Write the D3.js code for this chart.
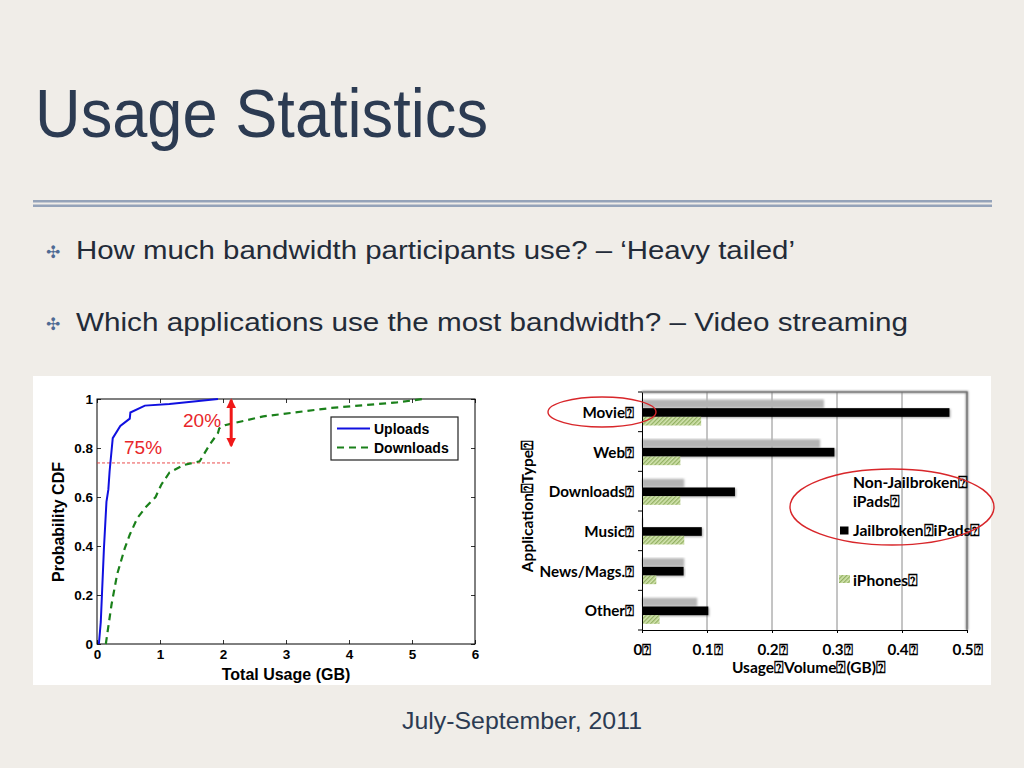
<!DOCTYPE html>
<html>
<head>
<meta charset="utf-8">
<script src="https://cdn.jsdelivr.net/npm/d3@7"></script>
<style>
  body { margin: 0; background: #f0ede8; }
  svg { display: block; }
  .tick line { stroke: #000; }
</style>
</head>
<body>
<div id="slide"></div>
<script>
// data
var BOX = "\u2370"; // the missing-glyph boxes that show in the original

var uploadX = [0.03, 0.06, 0.11, 0.15, 0.18, 0.20, 0.25, 0.37, 0.52, 0.53, 0.76, 1.15, 1.92];
var uploadY = [0, 0.09, 0.39, 0.58, 0.63, 0.705, 0.84, 0.89, 0.92, 0.945, 0.973, 0.98, 1.0];
var downloadX = [0.14, 0.23, 0.32, 0.44, 0.52, 0.64, 0.78, 0.93, 1.02, 1.15, 1.37, 1.63, 1.79, 1.92, 1.94, 2.03, 2.64, 3.70, 4.76, 5.18];
var downloadY = [0, 0.16, 0.285, 0.39, 0.446, 0.514, 0.56, 0.60, 0.65, 0.70, 0.73, 0.746, 0.814, 0.861, 0.88, 0.893, 0.929, 0.963, 0.986, 1.0];
var cdfXTicks = [0, 1, 2, 3, 4, 5, 6];
var cdfYTicks = [0, 0.2, 0.4, 0.6, 0.8, 1];

var apps = ["Movie", "Web", "Downloads", "Music", "News/Mags.", "Other"];
var series = ["Non-Jailbroken iPads", "Jailbroken iPads", "iPhones"];
var nonJailbroken = [0.28, 0.274, 0.065, 0.002, 0.065, 0.085];
var jailbroken = [0.473, 0.296, 0.143, 0.092, 0.064, 0.102];
var iphones = [0.091, 0.059, 0.059, 0.065, 0.022, 0.027];
var volTicks = [0, 0.1, 0.2, 0.3, 0.4, 0.5];

var svg = d3.select("#slide").append("svg").attr("width", 1024).attr("height", 768);

// slide chrome
svg.append("rect").attr("width", 1024).attr("height", 768).attr("fill", "#f0ede8");
svg.append("text").attr("x", 35).attr("y", 137)
  .attr("font-family", "Liberation Sans, Arial, sans-serif").attr("font-size", 68)
  .attr("fill", "#2c3b52").attr("textLength", 453).attr("lengthAdjust", "spacingAndGlyphs")
  .text("Usage Statistics");
svg.append("rect").attr("x", 33).attr("y", 200).attr("width", 959).attr("height", 2.5).attr("fill", "#95a3b9");
svg.append("rect").attr("x", 33).attr("y", 204.5).attr("width", 959).attr("height", 2.5).attr("fill", "#95a3b9");

var bullets = ["How much bandwidth participants use? \u2013 \u2018Heavy tailed\u2019",
               "Which applications use the most bandwidth? \u2013 Video streaming"];
var bulletW = [719, 832];
bullets.forEach(function(b, i) {
  var by = 259 + i * 72;
  svg.append("text").attr("x", 46).attr("y", by - 1).attr("font-size", 17)
    .attr("font-family", "DejaVu Sans").attr("fill", "#4f6a94").text("\u2723");
  svg.append("text").attr("x", 76).attr("y", by)
    .attr("font-family", "Liberation Sans, Arial, sans-serif").attr("font-size", 26.5)
    .attr("fill", "#232b38").attr("textLength", bulletW[i]).attr("lengthAdjust", "spacingAndGlyphs")
    .text(b);
});

svg.append("text").attr("x", 522).attr("y", 729).attr("text-anchor", "middle")
  .attr("font-family", "Liberation Sans, Arial, sans-serif").attr("font-size", 24)
  .attr("fill", "#2c3b52").attr("textLength", 240).attr("lengthAdjust", "spacingAndGlyphs")
  .text("July-September, 2011");

// white panel behind both charts
svg.append("rect").attr("x", 33).attr("y", 376).attr("width", 958).attr("height", 309).attr("fill", "#fff");

// ---------- left chart: CDF ----------
var L = {left: 97, right: 475, top: 399, bottom: 644};
var cx = d3.scaleLinear().domain([0, 6]).range([L.left, L.right]);
var cy = d3.scaleLinear().domain([0, 1]).range([L.bottom, L.top]);
var cdf = svg.append("g").attr("font-family", "Liberation Sans, Arial, sans-serif");

function styleAxis(g, showText) {
  g.select(".domain").remove();
  g.selectAll(".tick line").attr("stroke", "#000").attr("stroke-width", 0.8);
  g.selectAll("text").attr("font-size", 13.5).attr("font-weight", "bold").attr("fill", "#000")
    .attr("font-family", "Liberation Sans, Arial, sans-serif");
  if (!showText) g.selectAll("text").remove();
}
cdf.append("g").attr("transform", "translate(0," + L.bottom + ")")
  .call(d3.axisBottom(cx).tickValues(cdfXTicks).tickSize(-4).tickPadding(5).tickFormat(d3.format("d")))
  .call(styleAxis, true);
cdf.append("g").attr("transform", "translate(0," + L.top + ")")
  .call(d3.axisTop(cx).tickValues(cdfXTicks).tickSize(-4)).call(styleAxis, false);
cdf.append("g").attr("transform", "translate(" + L.left + ",0)")
  .call(d3.axisLeft(cy).tickValues(cdfYTicks).tickSize(-4).tickPadding(4).tickFormat(function(d) { return d === 0 || d === 1 ? d : d.toFixed(1); }))
  .call(styleAxis, true);
cdf.append("g").attr("transform", "translate(" + L.right + ",0)")
  .call(d3.axisRight(cy).tickValues(cdfYTicks).tickSize(-4)).call(styleAxis, false);
cdf.append("rect").attr("x", L.left).attr("y", L.top).attr("width", L.right - L.left).attr("height", L.bottom - L.top)
  .attr("fill", "none").attr("stroke", "#000").attr("stroke-width", 1);

var line = d3.line().x(function(d) { return cx(d[0]); }).y(function(d) { return cy(d[1]); });
var up = uploadX.map(function(v, i) { return [v, uploadY[i]]; });
var down = downloadX.map(function(v, i) { return [v, downloadY[i]]; });

// annotation: 75% line
cdf.append("line").attr("x1", cx(0)).attr("x2", cx(2.13)).attr("y1", cy(0.739)).attr("y2", cy(0.739))
  .attr("stroke", "#e8383a").attr("stroke-width", 0.9).attr("stroke-dasharray", "3,2");

cdf.append("path").datum(down).attr("d", line).attr("fill", "none")
  .attr("stroke", "#1a801a").attr("stroke-width", 2.2).attr("stroke-dasharray", "7,5");
cdf.append("path").datum(up).attr("d", line).attr("fill", "none")
  .attr("stroke", "#1010e0").attr("stroke-width", 2);

// annotation: 20% arrow
var defs = svg.append("defs");
defs.append("marker").attr("id", "ah").attr("viewBox", "0 0 10 10").attr("refX", 8).attr("refY", 5)
  .attr("markerWidth", 3.2).attr("markerHeight", 3.2).attr("orient", "auto-start-reverse")
  .append("path").attr("d", "M0,0L10,5L0,10z").attr("fill", "#f01818");
cdf.append("line").attr("x1", cx(2.13)).attr("x2", cx(2.13)).attr("y1", cy(0.995)).attr("y2", cy(0.81))
  .attr("stroke", "#f01818").attr("stroke-width", 3)
  .attr("marker-start", "url(#ah)").attr("marker-end", "url(#ah)");
cdf.append("text").attr("x", 183).attr("y", 427).attr("font-size", 19).attr("fill", "#e8262a").text("20%");
cdf.append("text").attr("x", 124).attr("y", 454).attr("font-size", 19).attr("fill", "#e8262a").text("75%");

// legend
var lg = cdf.append("g");
lg.append("rect").attr("x", 331).attr("y", 417).attr("width", 127).attr("height", 43)
  .attr("fill", "#fff").attr("stroke", "#222").attr("stroke-width", 1.2);
lg.append("line").attr("x1", 337).attr("x2", 370).attr("y1", 428.5).attr("y2", 428.5)
  .attr("stroke", "#1010e0").attr("stroke-width", 2);
lg.append("line").attr("x1", 337).attr("x2", 370).attr("y1", 447.5).attr("y2", 447.5)
  .attr("stroke", "#1a801a").attr("stroke-width", 2.2).attr("stroke-dasharray", "7,5");
lg.append("text").attr("x", 374).attr("y", 433.5).attr("font-size", 14).attr("font-weight", "bold").text("Uploads");
lg.append("text").attr("x", 374).attr("y", 452.5).attr("font-size", 14).attr("font-weight", "bold").text("Downloads");

cdf.append("text").attr("x", 286).attr("y", 680).attr("text-anchor", "middle")
  .attr("font-size", 16).attr("font-weight", "bold").text("Total Usage (GB)");
cdf.append("text").attr("transform", "translate(64,522) rotate(-90)").attr("text-anchor", "middle")
  .attr("font-size", 16).attr("font-weight", "bold").text("Probability CDF");

// ---------- right chart: application usage ----------
var R = {left: 642, right: 967, top: 392, bottom: 630};
var vx = d3.scaleLinear().domain([0, 0.5]).range([R.left, R.right]);
var vy = d3.scaleBand().domain(apps).range([R.top, R.bottom]);
var sub = d3.scaleBand().domain(series).range([7.5, 33.5]);
var bar = svg.append("g").attr("font-family", "Lato, 'Open Sans', sans-serif").attr("font-weight", "bold");

var pat = defs.append("pattern").attr("id", "hatch").attr("patternUnits", "userSpaceOnUse")
  .attr("width", 3).attr("height", 3).attr("patternTransform", "rotate(45)");
pat.append("rect").attr("width", 3).attr("height", 3).attr("fill", "#d2e3ae");
pat.append("rect").attr("width", 1.3).attr("height", 3).attr("fill", "#93b163");
defs.append("filter").attr("id", "soft").append("feGaussianBlur").attr("stdDeviation", 0.8);
var sh = defs.append("filter").attr("id", "shadow").attr("x", "-5%").attr("y", "-30%").attr("width", "110%").attr("height", "160%");
sh.append("feDropShadow").attr("dx", 1).attr("dy", 1).attr("stdDeviation", 0.8).attr("flood-color", "#000").attr("flood-opacity", 0.35);

// grid
bar.append("g").selectAll("line").data(volTicks.slice(1, 5)).join("line")
  .attr("x1", function(d) { return vx(d); }).attr("x2", function(d) { return vx(d); })
  .attr("y1", R.top).attr("y2", R.bottom).attr("stroke", "#8a8a8a").attr("stroke-width", 1);
bar.append("path").attr("d", "M" + R.left + "," + R.top + "H" + R.right + "V" + R.bottom)
  .attr("fill", "none").attr("stroke", "#7a7a7a").attr("stroke-width", 2.2).attr("filter", "url(#soft)");
bar.append("path").attr("d", "M" + R.left + "," + R.top + "H" + R.right + "V" + R.bottom)
  .attr("fill", "none").attr("stroke", "#6e6e6e").attr("stroke-width", 1.2);

var rows = apps.map(function(a, i) {
  return {app: a, vals: [nonJailbroken[i], jailbroken[i], iphones[i]]};
});
var rowG = bar.append("g").selectAll("g").data(rows).join("g")
  .attr("transform", function(d) { return "translate(0," + vy(d.app) + ")"; });
rowG.selectAll("rect").data(function(d) { return d.vals.map(function(v, j) { return {s: series[j], v: v}; }); })
  .join("rect")
  .attr("x", vx(0)).attr("y", function(d) { return sub(d.s); })
  .attr("width", function(d) { return vx(d.v) - vx(0); }).attr("height", sub.bandwidth())
  .attr("fill", function(d, j) { return j === 0 ? "#b4b4b4" : j === 1 ? "#000" : "url(#hatch)"; })
  .attr("filter", function(d, j) { return j === 0 ? "url(#soft)" : j === 1 ? "url(#shadow)" : null; });

// axes
var ya = bar.append("g").attr("transform", "translate(" + R.left + ",0)")
  .call(d3.axisLeft(vy).tickSize(0).tickPadding(8).tickFormat(function(d) { return d + BOX; }));
ya.select(".domain").attr("stroke", "#000");
ya.selectAll("text").attr("font-size", 15.2).attr("fill", "#000").attr("font-family", "Lato, sans-serif").attr("dy", "0.4em");
bar.append("g").selectAll("line").data(apps.concat(["_end"])).join("line")
  .attr("x1", R.left - 4).attr("x2", R.left)
  .attr("y1", function(d, i) { return R.top + vy.step() * i; })
  .attr("y2", function(d, i) { return R.top + vy.step() * i; })
  .attr("stroke", "#000");
var xa = bar.append("g").attr("transform", "translate(0," + R.bottom + ")")
  .call(d3.axisBottom(vx).tickValues(volTicks).tickSize(3).tickPadding(11)
    .tickFormat(function(d) { return (d === 0 ? "0" : d.toFixed(1)) + BOX; }));
xa.select(".domain").attr("stroke", "#000");
xa.selectAll("text").attr("font-size", 15.2).attr("fill", "#000").attr("font-family", "Lato, sans-serif");

bar.append("text").attr("x", 809).attr("y", 673).attr("text-anchor", "middle").attr("font-size", 15.5)
  .text("Usage" + BOX + "Volume" + BOX + "(GB)" + BOX);
bar.append("text").attr("transform", "translate(533,506) rotate(-90)").attr("text-anchor", "middle").attr("font-size", 15.5)
  .text("Application" + BOX + "Type" + BOX);

// legend
var rl = bar.append("g").attr("font-size", 15.6);
rl.append("text").attr("x", 853).attr("y", 488).text("Non-Jailbroken" + BOX);
rl.append("text").attr("x", 853).attr("y", 507).text("iPads" + BOX);
rl.append("rect").attr("x", 840).attr("y", 526.5).attr("width", 8.5).attr("height", 8).attr("fill", "#000");
rl.append("text").attr("x", 853).attr("y", 536).text("Jailbroken" + BOX + "iPads" + BOX);
rl.append("rect").attr("x", 839).attr("y", 575).attr("width", 11).attr("height", 8).attr("fill", "url(#hatch)");
rl.append("text").attr("x", 853).attr("y", 586).text("iPhones" + BOX);

// red circles
bar.append("ellipse").attr("cx", 602).attr("cy", 412).attr("rx", 54).attr("ry", 15)
  .attr("fill", "none").attr("stroke", "#d8262a").attr("stroke-width", 1.4);
bar.append("ellipse").attr("cx", 892).attr("cy", 507).attr("rx", 102).attr("ry", 38)
  .attr("fill", "none").attr("stroke", "#d8262a").attr("stroke-width", 1.4);
</script>
</body>
</html>
